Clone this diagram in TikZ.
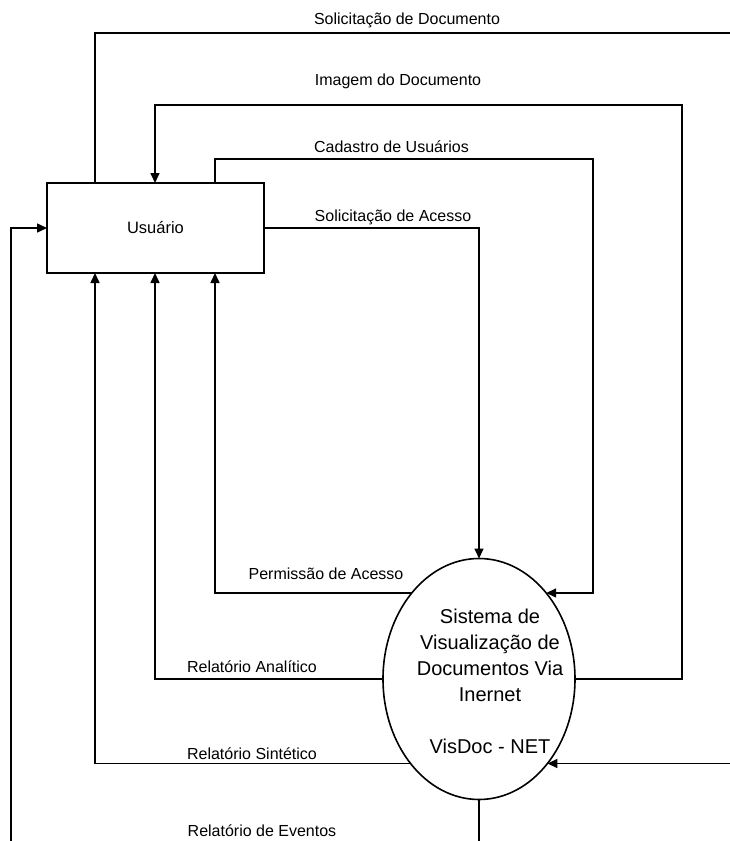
\documentclass[tikz,border=0pt]{standalone}
\usepackage{fontspec}
\setmainfont{Liberation Sans}
\usetikzlibrary{arrows.meta,shapes.geometric}
\begin{document}
\begin{tikzpicture}[x=1pt,y=-1pt,line width=1.6pt,
  arr/.style={-{Triangle[length=10pt,width=9pt]}},
  lbl/.style={font=\fontsize{16}{18}\selectfont,inner sep=0pt},
  big/.style={font=\fontsize{20}{26}\selectfont,align=center,inner sep=0pt}]
\useasboundingbox (0,0) rectangle (730,841);
% nodes
\node[draw,minimum width=217pt,minimum height=90pt,inner sep=0pt,outer sep=0pt,
      font=\fontsize{16.5}{18}\selectfont] (box) at (155.5,228) {Usuário};
\node[draw,ellipse,minimum width=192pt,minimum height=241pt,inner sep=0pt,outer sep=0pt] (ell) at (479,679) {};
\node[big] (elltext) at (490,681.5) {Sistema de\\Visualização de\\Documentos Via\\Inernet\\[26pt]VisDoc - NET};
% helper coordinates
\coordinate (xa) at (95,0);
\coordinate (xb) at (155,0);
\coordinate (xc) at (215,0);
\coordinate (eR) at (730,0);
\coordinate (eB) at (0,841);
\coordinate (eTop) at (730,33);
\coordinate (eL) at (11,841);
% connectors
\draw (box.north -| xa) |- (eTop);
\draw[arr] (ell.east) -| (682,105) -| (box.north -| xb);
\draw[arr] (box.north -| xc) |- (593,159) |- (ell.52);
\draw[arr] (box.east) -| (ell.north);
\draw[arr] (ell.128) -| (box.south -| xc);
\draw[arr] (ell.west) -| (box.south -| xb);
\draw[arr] (ell.231) -| (box.south -| xa);
\draw[arr] (ell.309 -| eR) -- (ell.309);
\draw (ell.south) -- (ell.south |- eB);
\draw[arr] (eL) |- (box.west);
% labels
\node[lbl] (l1) at (407,20) {Solicitação de Documento};
\node[lbl] (l2) at (398,81) {Imagem do Documento};
\node[lbl] (l3) at (391.5,147) {Cadastro de Usuários};
\node[lbl] (l4) at (393,217) {Solicitação de Acesso};
\node[lbl] (l5) at (326,574) {Permissão de Acesso};
\node[lbl] (l6) at (252,667) {Relatório Analítico};
\node[lbl] (l7) at (252,754) {Relatório Sintético};
\node[lbl] (l8) at (262,831) {Relatório de Eventos};
\end{tikzpicture}
\end{document}
